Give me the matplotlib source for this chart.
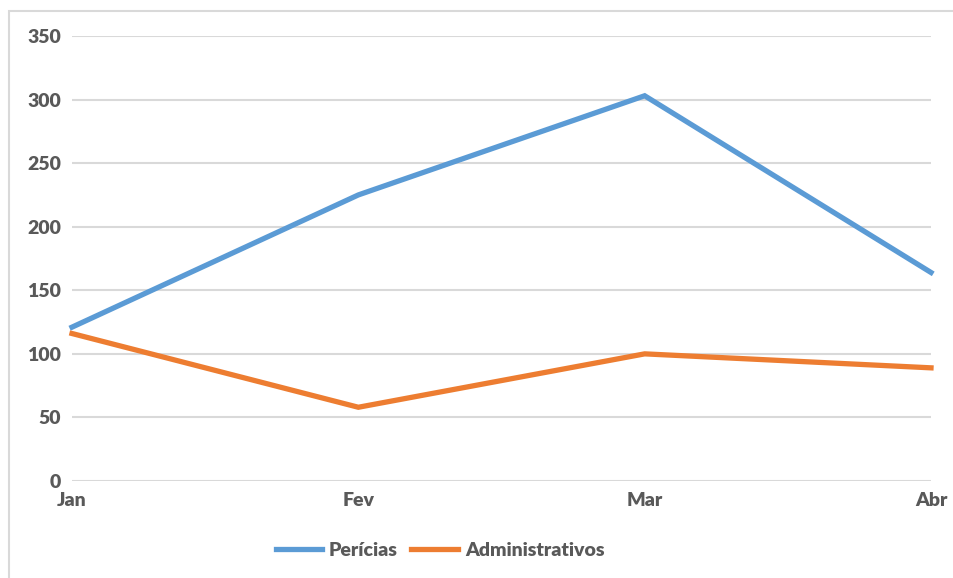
import matplotlib

matplotlib.use("Agg")
import matplotlib.pyplot as plt
from matplotlib.patches import Rectangle

months = ["Jan", "Fev", "Mar", "Abr"]
pericias = [121, 225, 303, 164]
administrativos = [116, 58, 100, 89]
yticks = [0, 50, 100, 150, 200, 250, 300, 350]

BLUE = "#5B9BD5"
ORANGE = "#ED7D31"
GRID = "#D9D9D9"
TXT = "#595959"

plt.rcParams["font.family"] = ["Lato", "DejaVu Sans"]
plt.rcParams["font.weight"] = "heavy"

fig = plt.figure(figsize=(9.54, 5.78), dpi=100)
ax = fig.add_axes([72 / 954, 1 - 481 / 578, (931 - 72) / 954, (481 - 36) / 578])

# outer chart border (cropped at right/bottom like the source)
fig.patches.append(Rectangle((9 / 954, -0.1), 1.2, 1 - 11 / 578 + 0.1,
                             transform=fig.transFigure, fill=False,
                             edgecolor=GRID, linewidth=1.5))

x = range(len(months))
ax.plot(x, pericias, color=BLUE, linewidth=3.8, label="Perícias",
        solid_joinstyle="miter", clip_on=False)
ax.plot(x, administrativos, color=ORANGE, linewidth=3.8,
        label="Administrativos", solid_joinstyle="miter", clip_on=False)

ax.set_xlim(0, len(months) - 1)
ax.set_ylim(0, 350)
ax.set_yticks(yticks)
ax.set_xticks(list(x), months)
ax.grid(axis="y", color=GRID, linewidth=1.5)
ax.set_axisbelow(True)
for s in ax.spines.values():
    s.set_visible(False)
ax.tick_params(length=0, labelsize=14, labelcolor=TXT)
ax.tick_params(axis="y", pad=8)
ax.tick_params(axis="x", pad=8)

fig.legend(loc="center", bbox_to_anchor=(440 / 954, 1 - 550 / 578), ncol=2,
           frameon=False, fontsize=14, handlelength=2.4, handletextpad=0.35,
           columnspacing=0.7, labelcolor=TXT)

fig.savefig("out.png", dpi=100, facecolor="white")
